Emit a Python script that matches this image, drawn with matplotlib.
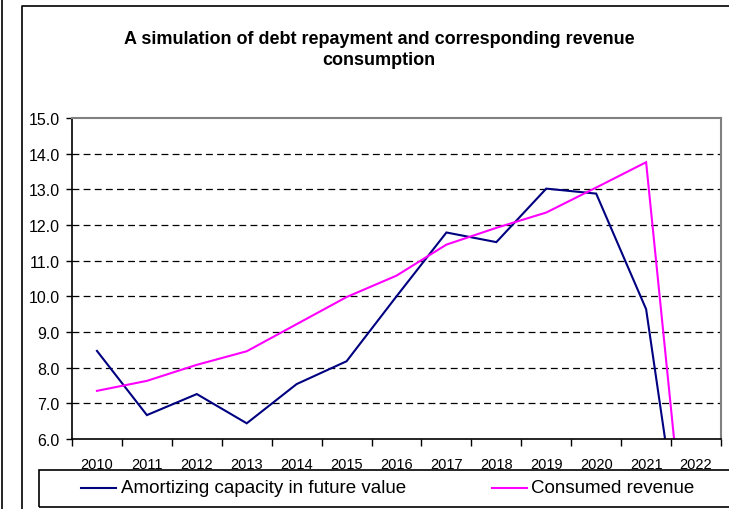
import numpy as np
import matplotlib.pyplot as plt
from matplotlib.lines import Line2D
from matplotlib.patches import Rectangle

plt.rcParams['font.family'] = ['Liberation Sans', 'DejaVu Sans']

years = ['2010', '2011', '2012', '2013', '2014', '2015', '2016',
         '2017', '2018', '2019', '2020', '2021', '2022']
amortizing = [8.47, 6.67, 7.26, 6.44, 7.54, 8.18, 10.0,
              11.79, 11.52, 13.02, 12.88, 9.64, 0.05]
consumed = [7.35, 7.63, 8.08, 8.46, 9.22, 9.98, 10.58,
            11.45, 11.92, 12.35, 13.05, 13.76, -0.1]

fig = plt.figure(figsize=(7.29, 5.10), dpi=100)
ax = fig.add_axes([72 / 729, 1 - 440 / 510, 649 / 729, 321 / 510])

x = np.arange(len(years))
ax.plot(x, amortizing, color='#000080', lw=1.5, solid_joinstyle='miter')
ax.plot(x, consumed, color='#FF00FF', lw=1.5, solid_joinstyle='miter')

ax.set_xlim(-0.5, len(years) - 0.5)
ax.set_ylim(6, 15)
ax.set_yticks(np.arange(6, 15.5, 1.0))
ax.set_yticklabels(['%.1f' % v for v in np.arange(6, 15.5, 1.0)], fontsize=11.5)
for v in range(7, 15):
    ax.axhline(v, color='black', lw=0.9, dashes=(5.5, 3.4), zorder=0)

# category axis: ticks between the years, labels in the middle
ax.set_xticks(np.arange(-0.5, len(years), 1.0))
ax.set_xticklabels([])
ax.set_xticks(x, minor=True)
ax.set_xticklabels(years, minor=True, fontsize=10.5)
ax.tick_params(axis='x', which='major', direction='out', length=5, width=1)
ax.tick_params(axis='x', which='minor', length=0, pad=13)
ax.tick_params(axis='y', direction='out', length=4, width=1, pad=5)

ax.spines['top'].set_color('#808080')
ax.spines['right'].set_color('#808080')
ax.spines['top'].set_linewidth(1.5)
ax.spines['right'].set_linewidth(1.5)
ax.spines['left'].set_linewidth(1.2)
ax.spines['bottom'].set_linewidth(1.2)

fig.text(379 / 729, 1 - 50 / 510,
         'A simulation of debt repayment and corresponding revenue\nconsumption',
         ha='center', va='center', fontsize=13, fontweight='bold', linespacing=1.25)

# outer frame lines
W, H = 729.0, 510.0
fig.add_artist(Line2D([2 / W, 2 / W], [0, 1], color='black', lw=1.2))
fig.add_artist(Line2D([22 / W, 22 / W, 1.0], [0, 1 - 7 / H, 1 - 7 / H], color='black', lw=1.2))

# legend box below the chart
fig.add_artist(Rectangle((39 / W, 1 - 508 / H), 700 / W, 37 / H, transform=fig.transFigure,
                         fill=False, edgecolor='black', lw=1.2))
ly = 1 - 489 / H
fig.add_artist(Line2D([81 / W, 116 / W], [ly, ly], color='#000080', lw=1.5))
fig.text(121 / W, ly, 'Amortizing capacity in future value', fontsize=13.5, va='center')
fig.add_artist(Line2D([492 / W, 527 / W], [ly, ly], color='#FF00FF', lw=1.5))
fig.text(531 / W, ly, 'Consumed revenue', fontsize=13.5, va='center')

fig.savefig('out.png', dpi=100)
